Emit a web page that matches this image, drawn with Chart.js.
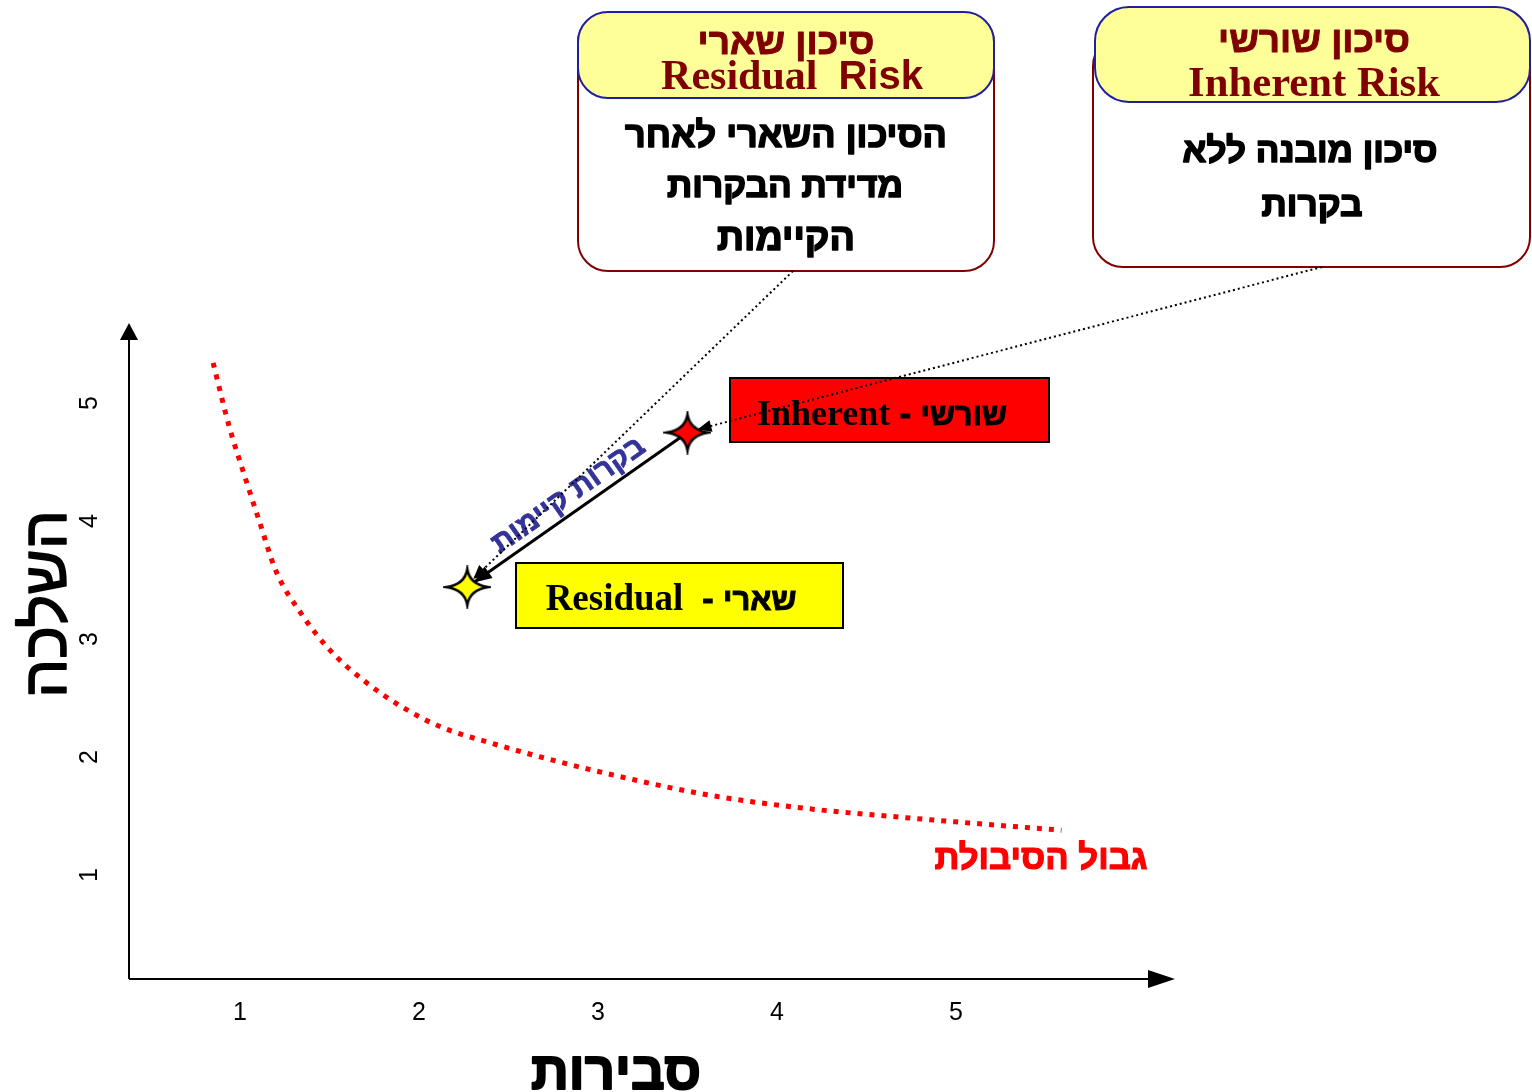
<!DOCTYPE html>
<html>
<head>
<meta charset="utf-8">
<script src="https://cdn.jsdelivr.net/npm/chart.js@4.4.0/dist/chart.umd.min.js"></script>
<style>
  html, body { margin: 0; padding: 0; background: #fff; }
  canvas { display: block; }
</style>
</head>
<body>
<canvas id="riskChart" width="1532" height="1092"></canvas>
<script>
const xTicks = [1, 2, 3, 4, 5];
const yTicks = [1, 2, 3, 4, 5];

// tolerance boundary (גבול הסיבולת)
const toleranceX = [0.85, 0.94, 1.02, 1.11, 1.2, 1.34, 1.5, 1.69, 1.91, 2.13, 2.4, 2.68, 3.05, 3.61, 4.13, 4.69, 5.25, 5.59];
const toleranceY = [5.34, 4.8, 4.41, 3.99, 3.58, 3.22, 2.91, 2.65, 2.42, 2.25, 2.12, 2.0, 1.86, 1.68, 1.57, 1.49, 1.42, 1.38];

const inherentPoint = { x: 3.5, y: 4.75 };
const residualPoint = { x: 2.27, y: 3.44 };

const xTitle = 'סבירות';
const yTitle = 'השלכה';
const toleranceLabel = 'גבול הסיבולת';
const controlsLabel = 'בקרות קיימות';

const SANS = '"Liberation Sans", "DejaVu Sans", Arial, sans-serif';
const SERIF = '"Liberation Serif", "DejaVu Serif", "Times New Roman", serif';
const DARK_RED = '#800000';

// 4 point star used as point style
function makeStar(fill) {
    const c = document.createElement('canvas');
    c.width = 48; c.height = 44;
    const g = c.getContext('2d');
    const cx = 24, cy = 22, rx = 21, ry = 18, k = 2.5;
    g.beginPath();
    g.moveTo(cx, cy - ry);
    g.quadraticCurveTo(cx + k, cy - k, cx + rx, cy);
    g.quadraticCurveTo(cx + k, cy + k, cx, cy + ry);
    g.quadraticCurveTo(cx - k, cy + k, cx - rx, cy);
    g.quadraticCurveTo(cx - k, cy - k, cx, cy - ry);
    g.closePath();
    g.fillStyle = fill;
    g.fill();
    g.lineWidth = 2.5;
    g.strokeStyle = '#000';
    g.stroke();
    return c;
}

function roundRect(ctx, x, y, w, h, r) {
    ctx.beginPath();
    ctx.moveTo(x + r, y);
    ctx.arcTo(x + w, y, x + w, y + h, r);
    ctx.arcTo(x + w, y + h, x, y + h, r);
    ctx.arcTo(x, y + h, x, y, r);
    ctx.arcTo(x, y, x + w, y, r);
    ctx.closePath();
}

// set font so that text gets the wanted width
function fitFont(ctx, text, width, tpl) {
    ctx.font = tpl.replace('#', '100');
    const size = 100 * width / ctx.measureText(text).width;
    ctx.font = tpl.replace('#', size.toFixed(1));
}

// heavy = extra outline to get the thick hebrew look
function fitText(ctx, text, cx, y, width, tpl, heavy) {
    fitFont(ctx, text, width, tpl);
    ctx.textAlign = 'center';
    ctx.fillText(text, cx, y);
    if (heavy) {
        ctx.lineWidth = heavy;
        ctx.strokeStyle = ctx.fillStyle;
        ctx.lineJoin = 'round';
        ctx.strokeText(text, cx, y);
    }
}

// several pieces with different fonts on one line, centred on cx
function drawRun(ctx, parts, cx, y) {
    let total = 0;
    parts.forEach(p => { ctx.font = p[1]; p.w = ctx.measureText(p[0]).width; total += p.w; });
    let x = cx - total / 2;
    ctx.textAlign = 'left';
    parts.forEach(p => {
        ctx.font = p[1];
        ctx.fillText(p[0], x, y);
        if (p[2]) {
            ctx.lineWidth = p[2];
            ctx.strokeStyle = ctx.fillStyle;
            ctx.strokeText(p[0], x, y);
        }
        x += p.w;
    });
}

function arrowHead(ctx, tipX, tipY, fromX, fromY, len, half) {
    const a = Math.atan2(tipY - fromY, tipX - fromX);
    ctx.beginPath();
    ctx.moveTo(tipX, tipY);
    ctx.lineTo(tipX - len * Math.cos(a) + half * Math.sin(a), tipY - len * Math.sin(a) - half * Math.cos(a));
    ctx.lineTo(tipX - len * Math.cos(a) - half * Math.sin(a), tipY - len * Math.sin(a) + half * Math.cos(a));
    ctx.closePath();
    ctx.fill();
}

const riskDecor = {
    id: 'riskDecor',
    beforeDatasetsDraw(chart) {
        const ctx = chart.ctx;
        const { left, right, top, bottom } = chart.chartArea;
        ctx.save();
        ctx.strokeStyle = '#000';
        ctx.fillStyle = '#000';
        ctx.lineWidth = 2;
        ctx.beginPath();
        ctx.moveTo(left, bottom);
        ctx.lineTo(right - 20, bottom);
        ctx.moveTo(left, bottom);
        ctx.lineTo(left, top + 12);
        ctx.stroke();
        arrowHead(ctx, right, bottom, left, bottom, 27, 9);
        arrowHead(ctx, left, top, left, bottom, 17, 9);
        ctx.restore();
    },
    afterDatasetsDraw(chart) {
        const ctx = chart.ctx;
        const xs = chart.scales.x, ys = chart.scales.y;
        const ix = xs.getPixelForValue(inherentPoint.x), iy = ys.getPixelForValue(inherentPoint.y);
        const rx = xs.getPixelForValue(residualPoint.x), ry = ys.getPixelForValue(residualPoint.y);
        ctx.save();
        ctx.textBaseline = 'alphabetic';

        // label boxes next to the points
        ctx.lineWidth = 2;
        ctx.strokeStyle = '#000';
        ctx.fillStyle = '#ff0000';
        ctx.fillRect(730, 378, 319, 64);
        ctx.strokeRect(730, 378, 319, 64);
        ctx.fillStyle = '#ffff00';
        ctx.fillRect(516, 563, 327, 65);
        ctx.strokeRect(516, 563, 327, 65);
        ctx.fillStyle = '#000';
        drawRun(ctx, [['Inherent', 'bold 36px ' + SERIF], [' - ', 'bold 34px ' + SANS, 1], ['שורשי', 'bold 31px ' + SANS, 1]], 882, 425);
        drawRun(ctx, [['Residual', 'bold 37px ' + SERIF], ['  - ', 'bold 34px ' + SANS, 1], ['שארי', 'bold 31px ' + SANS, 1]], 671, 610);

        // solid arrow head at the residual end
        const ang = Math.atan2(ry - iy, rx - ix);
        arrowHead(ctx, rx + 8 * Math.cos(ang + Math.PI), ry + 8 * Math.sin(ang + Math.PI), ix, iy, 18, 7);

        // rotated label along the arrow
        ctx.save();
        ctx.translate((ix + rx) / 2 - 9, (iy + ry) / 2 - 15);
        ctx.rotate(Math.atan2(iy - ry, ix - rx));
        ctx.fillStyle = '#333399';
        fitText(ctx, controlsLabel, 0, 9, 180, 'bold #px ' + SANS, 0.8);
        ctx.restore();

        // callout boxes
        ctx.lineWidth = 2;
        ctx.strokeStyle = DARK_RED;
        ctx.fillStyle = '#fff';
        roundRect(ctx, 578, 13, 416, 258, 30);
        ctx.fill(); ctx.stroke();
        roundRect(ctx, 1093, 36, 437, 231, 30);
        ctx.fill(); ctx.stroke();
        ctx.lineWidth = 2;
        ctx.strokeStyle = '#1f1f9f';
        ctx.fillStyle = '#ffff99';
        roundRect(ctx, 578, 12, 416, 86, 30);
        ctx.fill(); ctx.stroke();
        roundRect(ctx, 1095, 7, 435, 95, 34);
        ctx.fill(); ctx.stroke();

        ctx.fillStyle = DARK_RED;
        fitText(ctx, 'סיכון שארי', 786, 54, 177, 'bold #px ' + SANS, 1);
        drawRun(ctx, [['Residual', 'bold 42px ' + SERIF], ['  ', 'bold 42px ' + SERIF], ['Risk', 'bold 40px ' + SANS]], 792, 89);
        fitText(ctx, 'סיכון שורשי', 1314, 52, 192, 'bold #px ' + SANS, 1);
        fitText(ctx, 'Inherent Risk', 1314, 96, 252, 'bold #px ' + SERIF);

        ctx.fillStyle = '#000';
        fitText(ctx, 'הסיכון השארי לאחר', 786, 147, 322, 'bold #px ' + SANS, 1.6);
        fitText(ctx, 'מדידת הבקרות', 785, 197, 236, 'bold #px ' + SANS, 1.6);
        fitText(ctx, 'הקיימות', 786, 250, 138, 'bold #px ' + SANS, 1.6);
        fitText(ctx, 'סיכון מובנה ללא', 1310, 162, 255, 'bold #px ' + SANS, 1.6);
        fitText(ctx, 'בקרות', 1312, 216, 101, 'bold #px ' + SANS, 1.6);

        // dotted leaders from the callouts to the points
        ctx.strokeStyle = '#000';
        ctx.lineWidth = 2;
        ctx.setLineDash([2, 3]);
        ctx.beginPath();
        ctx.moveTo(793, 271);
        ctx.lineTo(rx + 6, ry - 8);
        ctx.moveTo(1322, 267);
        ctx.lineTo(ix + 10, iy - 3);
        ctx.stroke();
        ctx.setLineDash([]);
        ctx.fillStyle = '#000';
        arrowHead(ctx, rx + 6, ry - 8, 793, 271, 14, 6);
        arrowHead(ctx, ix + 10, iy - 3, 1322, 267, 14, 6);

        // tolerance label
        ctx.fillStyle = '#ff0000';
        fitText(ctx, toleranceLabel, 1041, 869, 213, 'bold #px ' + SANS, 1.2);

        // axis titles
        ctx.fillStyle = '#000';
        fitText(ctx, xTitle, 616, 1089, 170, 'bold #px ' + SANS, 2);
        ctx.translate(66, 604);
        ctx.rotate(-Math.PI / 2);
        fitText(ctx, yTitle, 0, 0, 188, '#px ' + SANS, 1.5);
        ctx.restore();
    }
};

const ctx = document.getElementById('riskChart').getContext('2d');
new Chart(ctx, {
    type: 'scatter',
    data: {
        datasets: [
            {
                label: 'points',
                data: [inherentPoint, residualPoint],
                pointStyle: [makeStar('#ff0000'), makeStar('#ffff00')],
                pointRadius: 21
            },
            {
                label: 'controls',
                data: [inherentPoint, residualPoint],
                showLine: true,
                borderColor: '#000',
                borderWidth: 3,
                pointRadius: 0
            },
            {
                label: 'tolerance',
                data: toleranceX.map((x, i) => ({ x, y: toleranceY[i] })),
                showLine: true,
                borderColor: '#ff0000',
                borderWidth: 5,
                borderDash: [5, 7],
                borderCapStyle: 'butt',
                cubicInterpolationMode: 'monotone',
                pointRadius: 0
            }
        ]
    },
    options: {
        responsive: false,
        animation: false,
        devicePixelRatio: 1,
        layout: { padding: { top: 323, right: 357, left: 0, bottom: 0 } },
        plugins: {
            legend: { display: false },
            tooltip: { enabled: false }
        },
        scales: {
            x: {
                type: 'linear',
                min: 0.38,
                max: 6.224,
                afterBuildTicks: s => { s.ticks = xTicks.map(v => ({ value: v })); },
                afterFit: s => { s.height = 113; },
                grid: { display: false, drawTicks: false },
                border: { display: false },
                ticks: { color: '#000', padding: 19, font: { family: SANS, size: 25 } }
            },
            y: {
                type: 'linear',
                min: 0.119,
                max: 5.678,
                afterBuildTicks: s => { s.ticks = yTicks.map(v => ({ value: v })); },
                afterFit: s => { s.width = 129; },
                grid: { display: false, drawTicks: false },
                border: { display: false },
                ticks: {
                    color: '#000', padding: 32, minRotation: 90, maxRotation: 90,
                    crossAlign: 'center', font: { family: SANS, size: 25 }
                }
            }
        }
    },
    plugins: [riskDecor]
});
</script>
</body>
</html>
